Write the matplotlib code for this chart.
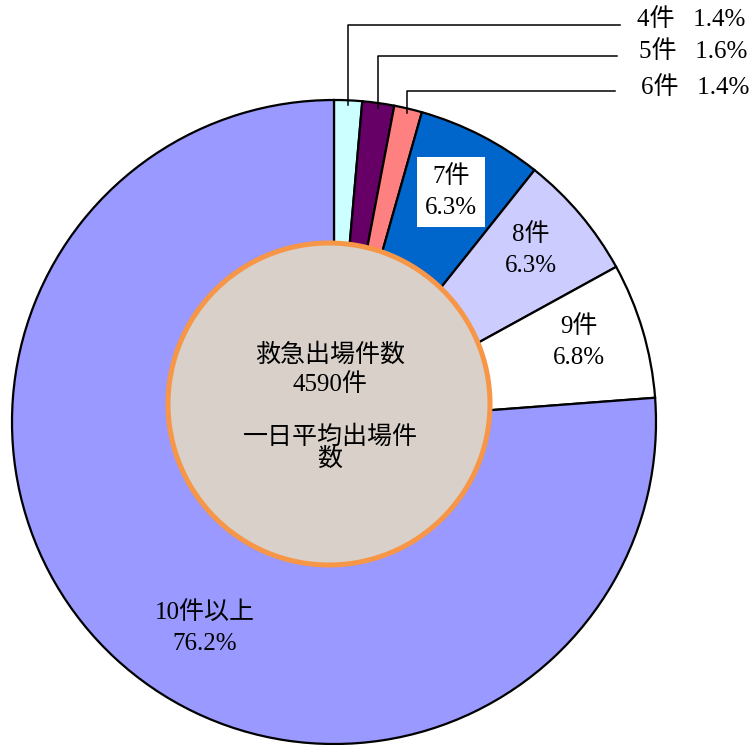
import matplotlib
matplotlib.use('Agg')
import matplotlib.pyplot as plt
import numpy as np

plt.rcParams['font.family'] = ['Liberation Serif', 'Noto Sans CJK JP']
plt.rcParams['font.size'] = 18

# data
categories = ['4件', '5件', '6件', '7件', '8件', '9件', '10件以上']
shares = [1.4, 1.6, 1.4, 6.3, 6.3, 6.8, 76.2]
colors = ['#CCFFFF', '#660066', '#FF8080', '#0066CC', '#CCCCFF', '#FFFFFF', '#9999FF']
center_title = '救急出場件数'
center_total = '4590件'
center_sub = '一日平均出場件'
center_sub2 = '数'

W, H = 752, 745
fig = plt.figure(figsize=(W / 100, H / 100), dpi=100)
ax = fig.add_axes([0, 0, 1, 1])

cx, cy, R = 334, H - 422, 322
wedges, _ = ax.pie(shares, colors=colors, startangle=90, counterclock=False,
                   center=(cx, cy), radius=R, frame=True,
                   wedgeprops=dict(edgecolor='black', linewidth=1.6))

# centre disc
disc = plt.Circle((329, H - 404), 161, facecolor='#D8D0C9', edgecolor='#F79646',
                  linewidth=3.6, zorder=5)
ax.add_patch(disc)
ax.text(330, H - 355, center_title, ha='center', va='center', zorder=6)
ax.text(330, H - 385, center_total, ha='center', va='center', zorder=6)
ax.text(330, H - 437, center_sub, ha='center', va='center', zorder=6)
ax.text(330, H - 459, center_sub2, ha='center', va='center', zorder=6)

# leader lines for the three small slices
level_y = [25, 56, 91]
line_end = [620, 617, 615]
label_y = [20, 52, 88]
label_x = [745, 747, 749]
for i in range(3):
    w = wedges[i]
    mid = np.deg2rad((w.theta1 + w.theta2) / 2)
    x0 = cx + R * 0.985 * np.cos(mid)
    y0 = cy + R * 0.985 * np.sin(mid)
    ax.plot([x0, x0, line_end[i]], [y0, H - level_y[i], H - level_y[i]],
            color='black', linewidth=1.1, zorder=4)
    ax.text(label_x[i], H - label_y[i], f'{categories[i]}   {shares[i]:.1f}%',
            ha='right', va='center')

# labels inside slices
inside = {3: (451, 192), 4: (531, 250), 5: (579, 342), 6: (205, 628)}
for i, (px, py) in inside.items():
    kw = {}
    if i == 3:
        kw['bbox'] = dict(facecolor='white', edgecolor='none', pad=6)
    ax.text(px, H - py, f'{categories[i]}\n{shares[i]:.1f}%', ha='center',
            va='center', linespacing=1.5, zorder=6, **kw)

ax.set_xlim(0, W)
ax.set_ylim(0, H)
ax.set_aspect('equal')
ax.axis('off')

fig.savefig('out.png', dpi=100)
